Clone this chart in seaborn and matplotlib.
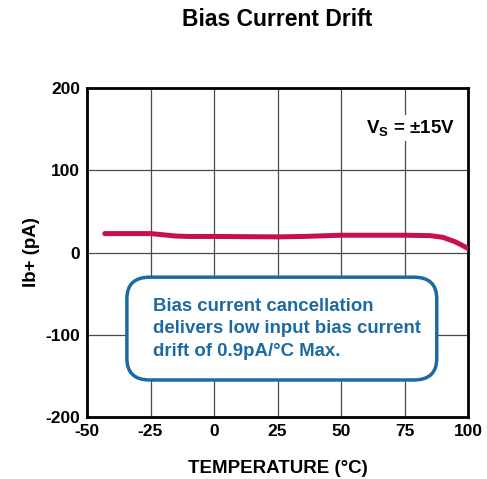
import numpy as np
import pandas as pd
import matplotlib.pyplot as plt
import seaborn as sns
from matplotlib.patches import FancyBboxPatch

# data
temperature = [-43, -25, -20, -15, -10, 0, 25, 35, 50, 75, 85, 90, 95, 100]
ib_plus = [23, 23, 21.5, 20, 19.5, 19.5, 19, 19.5, 21, 21, 20.5, 18.5, 13, 5]
x_ticks = [-50, -25, 0, 25, 50, 75, 100]
y_ticks = [-200, -100, 0, 100, 200]

sns.set_style("white")
plt.rcParams["font.family"] = ["Liberation Sans", "DejaVu Sans"]
plt.rcParams["font.weight"] = "bold"
plt.rcParams["text.color"] = "black"
plt.rcParams["axes.labelcolor"] = "black"
plt.rcParams["xtick.color"] = "black"
plt.rcParams["ytick.color"] = "black"
plt.rcParams["axes.unicode_minus"] = False
plt.rcParams["mathtext.fontset"] = "custom"
plt.rcParams["mathtext.rm"] = "Liberation Sans:bold"
plt.rcParams["mathtext.bf"] = "Liberation Sans:bold"
plt.rcParams["mathtext.it"] = "Liberation Sans:bold"

df = pd.DataFrame({"temp": temperature, "ib": ib_plus})

fig = plt.figure(figsize=(4.87, 4.79), dpi=100)
ax = fig.add_axes([87 / 487, 1 - 417 / 479, 381 / 487, 329 / 479])

sns.lineplot(data=df, x="temp", y="ib", color="#c8104a", linewidth=3.6, ax=ax, zorder=3)

ax.set_xlim(-50, 100)
ax.set_ylim(-200, 200)
ax.set_xticks(x_ticks)
ax.set_yticks(y_ticks)
ax.grid(True, color="#4a4a4a", linewidth=0.9)
for s in ax.spines.values():
    s.set_visible(True)
    s.set_color("black")
    s.set_linewidth(2)
ax.tick_params(axis="x", length=0, labelsize=12.5, pad=5, labelcolor="black")
ax.tick_params(axis="y", length=0, labelsize=12.5, pad=5, labelcolor="black")
for lab in ax.get_xticklabels() + ax.get_yticklabels():
    lab.set_fontweight("bold")

ax.set_xlabel("TEMPERATURE (°C)", fontsize=13.5, fontweight="bold", labelpad=15, color="black")
ax.set_ylabel("Ib+ (pA)", fontsize=13.5, fontweight="bold", labelpad=4, color="black")
fig.text(0.5 * (87 + 468) / 487, 1 - 19 / 479, "Bias Current Drift",
         ha="center", va="center", fontsize=16.5, fontweight="bold", color="black")

ax.text(77.2, 151, r"$\mathrm{V_S}$ = ±15V", ha="center", va="center",
        fontsize=13.5, fontweight="bold", color="black",
        bbox=dict(facecolor="white", edgecolor="none", pad=2))

box = FancyBboxPatch((-34.3, -155), 122, 125,
                     boxstyle="round,pad=0,rounding_size=9",
                     mutation_aspect=2.9,
                     facecolor="white", edgecolor="#1d6aa2", linewidth=2.5, zorder=4)
ax.add_patch(box)
ax.text(-24, -93, "Bias current cancellation\ndelivers low input bias current\ndrift of 0.9pA/°C Max.",
        ha="left", va="center", fontsize=13.4, fontweight="bold", color="#1d6aa2",
        linespacing=1.45, zorder=5)

fig.savefig("out.png", dpi=100)
